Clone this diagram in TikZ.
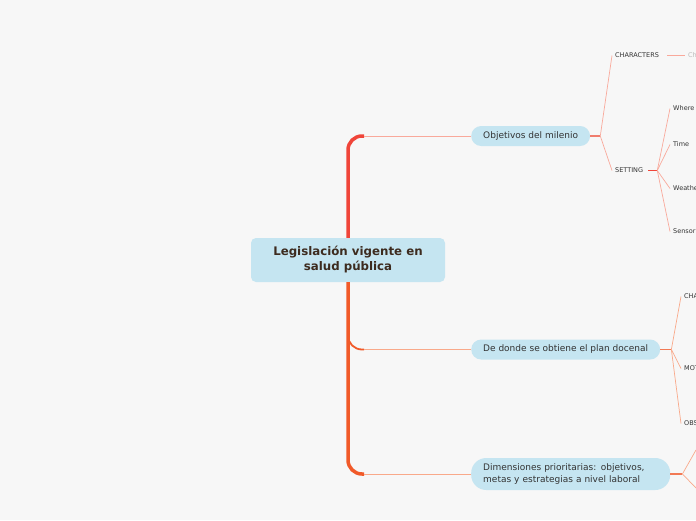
\documentclass[tikz,border=0pt]{standalone}
\usepackage{fontspec}
\setmainfont{DejaVu Sans}
\usepackage{xcolor}
\usetikzlibrary{positioning,calc}

\definecolor{bggray}{HTML}{F7F7F7}
\definecolor{nodeblue}{HTML}{C5E5F1}
\definecolor{rootbrown}{HTML}{3D2B1F}
\definecolor{labelgray}{HTML}{333333}
\definecolor{fadedgray}{HTML}{BBBBBB}
\definecolor{trunkred}{HTML}{F0453A}
\definecolor{trunkorange}{HTML}{F15A29}
\definecolor{linesalmon}{HTML}{F9A99B}
\definecolor{lineorange}{HTML}{F9A98A}
\definecolor{stubred}{HTML}{F07D6E}
\definecolor{stuborange}{HTML}{F27A55}

\begin{document}
\begin{tikzpicture}[
    x=1pt, y=-1pt,
    root/.style={fill=nodeblue, rounded corners=5pt, minimum width=194pt, minimum height=44pt, align=center, text=rootbrown, font=\fontsize{11.8}{15}\selectfont\bfseries},
    topic/.style={fill=nodeblue, rounded corners=10pt, inner xsep=12pt, inner ysep=0pt, minimum height=20pt, anchor=west, align=left, text=labelgray, font=\fontsize{9}{12}\selectfont},
    leaf/.style={anchor=west, inner xsep=3pt, inner ysep=1pt, text=labelgray, font=\fontsize{6.5}{8}\selectfont},
    trunk/.style={line width=3.5pt, rounded corners=14pt},
    branch/.style={line width=0.8pt},
    stub/.style={line width=1.5pt},
    twig/.style={line width=0.7pt},
]
    \useasboundingbox (0,0) rectangle (696,520);
    \fill[bggray] (0,0) rectangle (696,520);
    \clip (0,0) rectangle (696,520);

    % Central topic
    \node[root] (root) at (348,260) {Legislación vigente en\\salud pública};

    % Main topics
    \node[topic] (obj) at (471,136) {Objetivos del milenio};
    \node[topic] (plan) at (471,349.5) {De donde se obtiene el plan docenal};
    \node[topic, text width=175pt, minimum height=32pt, rounded corners=15pt] (dim) at (471,474) {Dimensiones prioritarias: objetivos,\\metas y estrategias a nivel laboral};

    % Trunk and branches
    \coordinate (ta) at ($(root.north |- obj.west)+(16,0)$);
    \coordinate (tb) at ($(root.south |- plan.west)+(16,0)$);
    \coordinate (tbstart) at ($(root.south |- plan.west)+(0,-16)$);
    \coordinate (tc) at ($(root.south |- dim.west)+(16,0)$);
    \draw[trunk, trunkred] (root.north) |- (ta);
    \draw[trunk, trunkorange] (root.south) |- (tc);
    \draw[trunkorange, line width=1.8pt, rounded corners=14pt] (tbstart) |- (tb);
    \draw[branch, linesalmon] (ta) -- (obj.west);
    \draw[branch, lineorange] (tb) -- (plan.west);
    \draw[branch, lineorange] (tc) -- (dim.west);

    % Objetivos del milenio
    \node[leaf] (chars) at (612,55.5) {CHARACTERS};
    \node[leaf] (setting) at (612,170.5) {SETTING};
    \coordinate (objhub) at ($(obj.east)+(10,0)$);
    \draw[stub, stubred] (obj.east) -- (objhub);
    \draw[twig, linesalmon] (objhub) -- (chars.west);
    \draw[twig, linesalmon] (objhub) -- (setting.west);

    \node[leaf, text=fadedgray] (chfaded) at (685,55.5) {Ch};
    \draw[stub, linesalmon, line width=1pt] ($(chars.east)+(5,0)$) -- (chfaded.west);

    \node[leaf] (where) at (670,108.5) {Where};
    \node[leaf] (time) at (670,144.5) {Time};
    \node[leaf] (weather) at (670,188.5) {Weather};
    \node[leaf] (sensor) at (670,231.5) {Sensor};
    \coordinate (sethub) at ($(setting.east)+(11,0)$);
    \draw[stub, trunkred, line width=1.2pt] ($(setting.east)+(2,0)$) -- (sethub);
    \foreach \leafname in {where,time,weather,sensor}
        \draw[twig, linesalmon] (sethub) -- (\leafname.west);
    \coordinate (timeout) at ($(time.east)+(22,0)$);
    \draw[twig, trunkred] ($(time.east)+(4,0)$) -- (timeout);

    % De donde se obtiene el plan docenal
    \node[leaf] (cha) at (681,296.5) {CHA};
    \node[leaf] (mot) at (681,368.5) {MOT};
    \node[leaf] (obs) at (681,423.5) {OBS};
    \coordinate (planhub) at ($(plan.east)+(11,0)$);
    \draw[stub, stuborange] (plan.east) -- (planhub);
    \foreach \leafname in {cha,mot,obs}
        \draw[twig, lineorange] (planhub) -- (\leafname.west);

    % Dimensiones prioritarias
    \coordinate (dimhub) at ($(dim.east)+(12,0)$);
    \coordinate (dimup) at (696,450);
    \coordinate (dimdown) at (700,492);
    \draw[stub, stuborange] (dim.east) -- (dimhub);
    \draw[twig, lineorange] (dimhub) -- (dimup);
    \draw[twig, lineorange] (dimhub) -- (dimdown);

\end{tikzpicture}
\end{document}
